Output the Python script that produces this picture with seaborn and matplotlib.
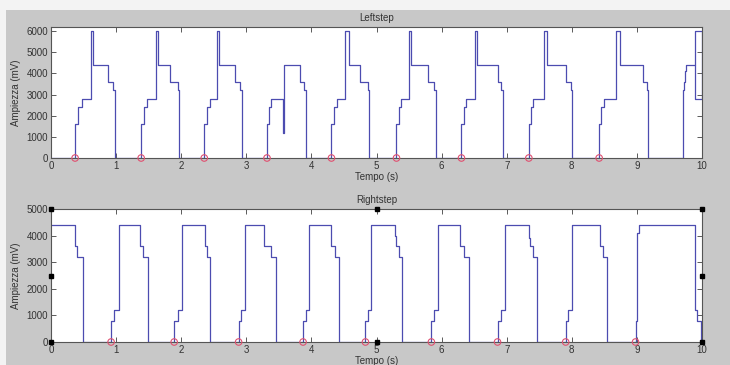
import numpy as np
import pandas as pd
import seaborn as sns
import matplotlib.pyplot as plt
from matplotlib.patches import Rectangle

# Leftstep signal: change points (time in s, amplitude in mV), drawn as steps-post
left_t = [0.0,
          0.37, 0.41, 0.47, 0.615, 0.64, 0.88, 0.96, 0.99,
          1.385, 1.425, 1.47, 1.615, 1.65, 1.83, 1.95, 1.965,
          2.354, 2.39, 2.435, 2.554, 2.58, 2.83, 2.91, 2.94,
          3.318, 3.345, 3.385, 3.571, 3.585, 3.82, 3.89, 3.92,
          4.308, 4.343, 4.395, 4.51, 4.574, 4.75, 4.875, 4.89,
          5.307, 5.348, 5.384, 5.50, 5.537, 5.793, 5.885, 5.91,
          6.305, 6.34, 6.38, 6.51, 6.545, 6.868, 6.91, 6.95,
          7.34, 7.37, 7.405, 7.574, 7.62, 7.917, 7.994, 8.005,
          8.42, 8.455, 8.495, 8.675, 8.746, 9.094, 9.16, 9.17,
          9.703, 9.72, 9.735, 9.75, 9.90, 10.0, 9.90, 9.90]
left_v = [0,
          1600, 2400, 2800, 6000, 4400, 3600, 3200, 0,
          1600, 2400, 2800, 6000, 4400, 3600, 3200, 0,
          1600, 2400, 2800, 6000, 4400, 3600, 3200, 0,
          1600, 2400, 2800, 1200, 4400, 3600, 3200, 0,
          1600, 2400, 2800, 6000, 4400, 3600, 3200, 0,
          1600, 2400, 2800, 6000, 4400, 3600, 3200, 0,
          1600, 2400, 2800, 6000, 4400, 3600, 3200, 0,
          1600, 2400, 2800, 6000, 4400, 3600, 3200, 0,
          1600, 2400, 2800, 6000, 4400, 3600, 3200, 0,
          3200, 3600, 4100, 4400, 2800, 6000, 6000, 4400]
left_onsets = [0.37, 1.385, 2.354, 3.318, 4.308, 5.307, 6.305, 7.34, 8.42]

# Rightstep signal
right_t = [0.0, 0.37, 0.405, 0.487,
           0.923, 0.974, 1.046, 1.369, 1.41, 1.487,
           1.892, 1.944, 2.01, 2.359, 2.395, 2.45,
           2.882, 2.923, 2.985, 3.267, 3.38, 3.45,
           3.872, 3.918, 3.959, 4.308, 4.37, 4.42,
           4.83, 4.867, 4.918, 5.291, 5.30, 5.34, 5.393,
           5.843, 5.889, 5.94, 6.287, 6.338, 6.42,
           6.859, 6.91, 6.97, 7.344, 7.36, 7.41, 7.46,
           7.906, 7.94, 7.998, 8.432, 8.473, 8.544,
           8.979, 8.995, 9.03, 9.89, 9.92, 9.99, 10.0]
right_v = [4400, 3600, 3200, 0,
           800, 1200, 4400, 3600, 3200, 0,
           800, 1200, 4400, 3600, 3200, 0,
           800, 1200, 4400, 3600, 3200, 0,
           800, 1200, 4400, 3600, 3200, 0,
           800, 1200, 4400, 4000, 3600, 3200, 0,
           800, 1200, 4400, 3600, 3200, 0,
           800, 1200, 4400, 3900, 3600, 3200, 0,
           800, 1200, 4400, 3600, 3200, 0,
           800, 4100, 4400, 1200, 800, 0, 0]
right_onsets = [0.923, 1.892, 2.882, 3.872, 4.83, 5.843, 6.859, 7.906, 8.979]

# MATLAB selection handles on the lower axes
handle_x = [0, 0, 0, 5, 5, 10, 10, 10]
handle_y = [0, 2500, 5000, 0, 5000, 0, 2500, 5000]

sns.set_style("ticks")
plt.rcParams['font.family'] = ['Liberation Sans', 'DejaVu Sans']

fig = plt.figure(figsize=(7.3, 3.65), dpi=100, facecolor='#f3f3f3')
fig.patches.append(Rectangle((6 / 730, 0), 1, 355 / 365, transform=fig.transFigure,
                             facecolor='#c8c8c8', edgecolor='none', zorder=-10))

ax1 = fig.add_axes([51 / 730, 1 - 158 / 365, 651 / 730, 131 / 365])
ax2 = fig.add_axes([51 / 730, 1 - 342 / 365, 651 / 730, 133 / 365])

line_col = '#4c4cb0'
circ_col = '#e05070'
txt_col = '#333333'


def style_axes(ax, ymax, yticks, title):
    ax.set_facecolor('white')
    ax.set_xlim(0, 10)
    ax.set_ylim(0, ymax)
    ax.set_xticks(range(0, 11))
    ax.set_yticks(yticks)
    ax.tick_params(direction='in', length=3.5, width=0.6, top=True, right=True,
                   labelsize=7, colors='#404040', labelcolor=txt_col, pad=2)
    for s in ax.spines.values():
        s.set_color('#555555')
        s.set_linewidth(0.8)
    ax.set_xlabel('Tempo (s)', fontsize=7, color=txt_col, labelpad=1)
    ax.set_ylabel('Ampiezza (mV)', fontsize=7, color=txt_col, labelpad=4)
    ax.set_title(title, fontsize=7, color=txt_col, pad=4)


left_df = pd.DataFrame({'t': left_t, 'v': left_v})
sns.lineplot(data=left_df, x='t', y='v', ax=ax1, sort=False, estimator=None,
             drawstyle='steps-post', color=line_col, linewidth=0.9)
sns.scatterplot(x=left_onsets, y=[0] * len(left_onsets), ax=ax1, marker='o', s=22,
                facecolors='none', edgecolors=circ_col, linewidth=0.8, zorder=5, clip_on=False)
style_axes(ax1, 6200, range(0, 6001, 1000), 'Leftstep')

right_df = pd.DataFrame({'t': right_t, 'v': right_v})
sns.lineplot(data=right_df, x='t', y='v', ax=ax2, sort=False, estimator=None,
             drawstyle='steps-post', color=line_col, linewidth=0.9)
sns.scatterplot(x=right_onsets, y=[0] * len(right_onsets), ax=ax2, marker='o', s=22,
                facecolors='none', edgecolors=circ_col, linewidth=0.8, zorder=5, clip_on=False)
ax2.plot(handle_x, handle_y, linestyle='none', marker='s', markersize=3,
         color='black', clip_on=False, zorder=6)
style_axes(ax2, 5000, range(0, 5001, 1000), 'Rightstep')

fig.savefig('out.png', dpi=100, facecolor=fig.get_facecolor())
